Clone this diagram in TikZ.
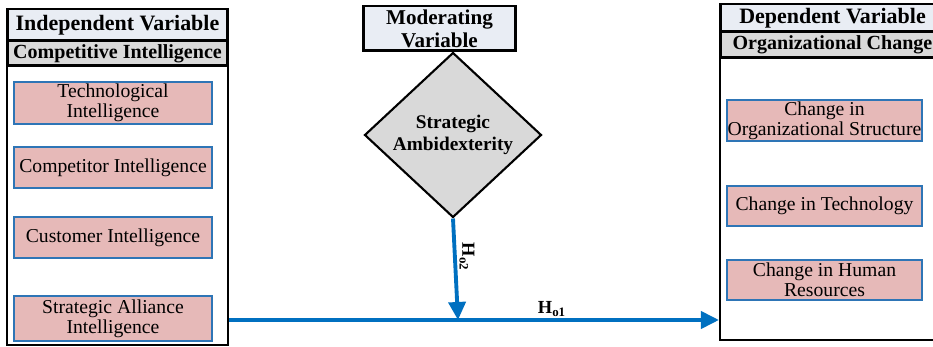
\documentclass[tikz,border=0pt]{standalone}
\usepackage{fontspec}
\setmainfont{Liberation Serif}
\usetikzlibrary{arrows.meta,shapes.geometric}
\definecolor{hdrfill}{HTML}{E9EDF4}
\definecolor{subfill}{HTML}{D9D9D9}
\definecolor{itemfill}{HTML}{E6B9B8}
\definecolor{itemline}{HTML}{2E75B6}
\definecolor{flowblue}{HTML}{0070C0}
\tikzset{%
  >={Triangle[width=3.4mm,length=3.6mm]},
            base/.style = {rectangle, draw=black, line width=1.7pt,
                           inner sep=0pt, text centered, align=center},
  outer/.style = {base, line width=1.2pt, fill=white},
  hdr/.style   = {base, fill=hdrfill, font=\bfseries\fontsize{12.5}{13.5}\selectfont},
  sub/.style   = {base, fill=subfill, font=\bfseries\fontsize{11.4}{12}\selectfont},
  item/.style  = {base, line width=0.9pt, draw=itemline, fill=itemfill,
                  font=\fontsize{11.2}{11.6}\selectfont},
  decide/.style = {diamond, draw=black, line width=1.2pt, fill=subfill, inner sep=0pt,
                   align=center, font=\bfseries\fontsize{11}{12.5}\selectfont},
  flow/.style  = {->, draw=flowblue, line width=2.2pt},
  hlabel/.style = {inner sep=1pt, font=\bfseries\fontsize{10.5}{11}\selectfont},
}

\begin{document}
\begin{tikzpicture}[x=0.02cm, y=-0.02cm]
  \useasboundingbox (0,0) rectangle (933,347);

  % independent side
  \node (onIndepBox) [outer, minimum width=4.42cm, minimum height=6.72cm] at (117.5,177) {};
  \node (onIndep)    [hdr, minimum width=4.42cm, minimum height=0.64cm] at (117.5,25)  {Independent Variable};
  \node (onCompInt)  [sub, minimum width=4.42cm, minimum height=0.5cm]  at (117.5,53.5) {Competitive Intelligence};
  \node (onTech)     [item, minimum width=3.96cm, minimum height=0.84cm] at (113,103)   {Technological \\ Intelligence};
  \node (onCompet)   [item, minimum width=3.96cm, minimum height=0.82cm] at (113,167.5) {Competitor Intelligence};
  \node (onCust)     [item, minimum width=3.96cm, minimum height=0.82cm] at (113,237.5) {Customer Intelligence};
  \node (onAlly)     [item, minimum width=3.96cm, minimum height=0.9cm]  at (113,318.5) {Strategic Alliance \\ Intelligence};

  % moderator
  \node (onModer)    [hdr, minimum width=3.06cm, minimum height=0.9cm, font=\bfseries\fontsize{12}{13}\selectfont]
                     at (439.5,28.5) {Moderating \\ Variable};
  \node (onAmbi)     [decide, minimum width=3.54cm, minimum height=3.3cm] at (453,135) {Strategic \\ Ambidexterity};

  % dependent side
  \node (onDepBox)   [outer, minimum width=4.5cm, minimum height=6.72cm] at (832.5,172) {};
  \node (onDep)      [hdr, minimum width=4.5cm, minimum height=0.56cm] at (832.5,18) {Dependent Variable};
  \node (onOrgChg)   [sub, minimum width=4.5cm, minimum height=0.52cm] at (832.5,45) {Organizational Change};
  \node (onStruct)   [item, minimum width=3.9cm, minimum height=0.82cm] at (824.5,120.5) {Change in \\ Organizational Structure};
  \node (onTechChg)  [item, minimum width=3.9cm, minimum height=0.8cm]  at (824.5,206)   {Change in Technology};
  \node (onHuman)    [item, minimum width=3.9cm, minimum height=0.8cm]  at (824.5,280)   {Change in Human \\ Resources};

  \coordinate (onJunc) at (458,320);

  \draw[flow] (onIndepBox.east |- onJunc) -- (onDepBox.west |- onJunc);
  \draw[flow] (onAmbi.south) -- (onJunc);

  \node (onHo2) [hlabel, rotate=-90] at (467,257) {H\textsubscript{o2}};
  \node (onHo1) [hlabel] at (552,309) {H\textsubscript{o1}};
\end{tikzpicture}
\end{document}
